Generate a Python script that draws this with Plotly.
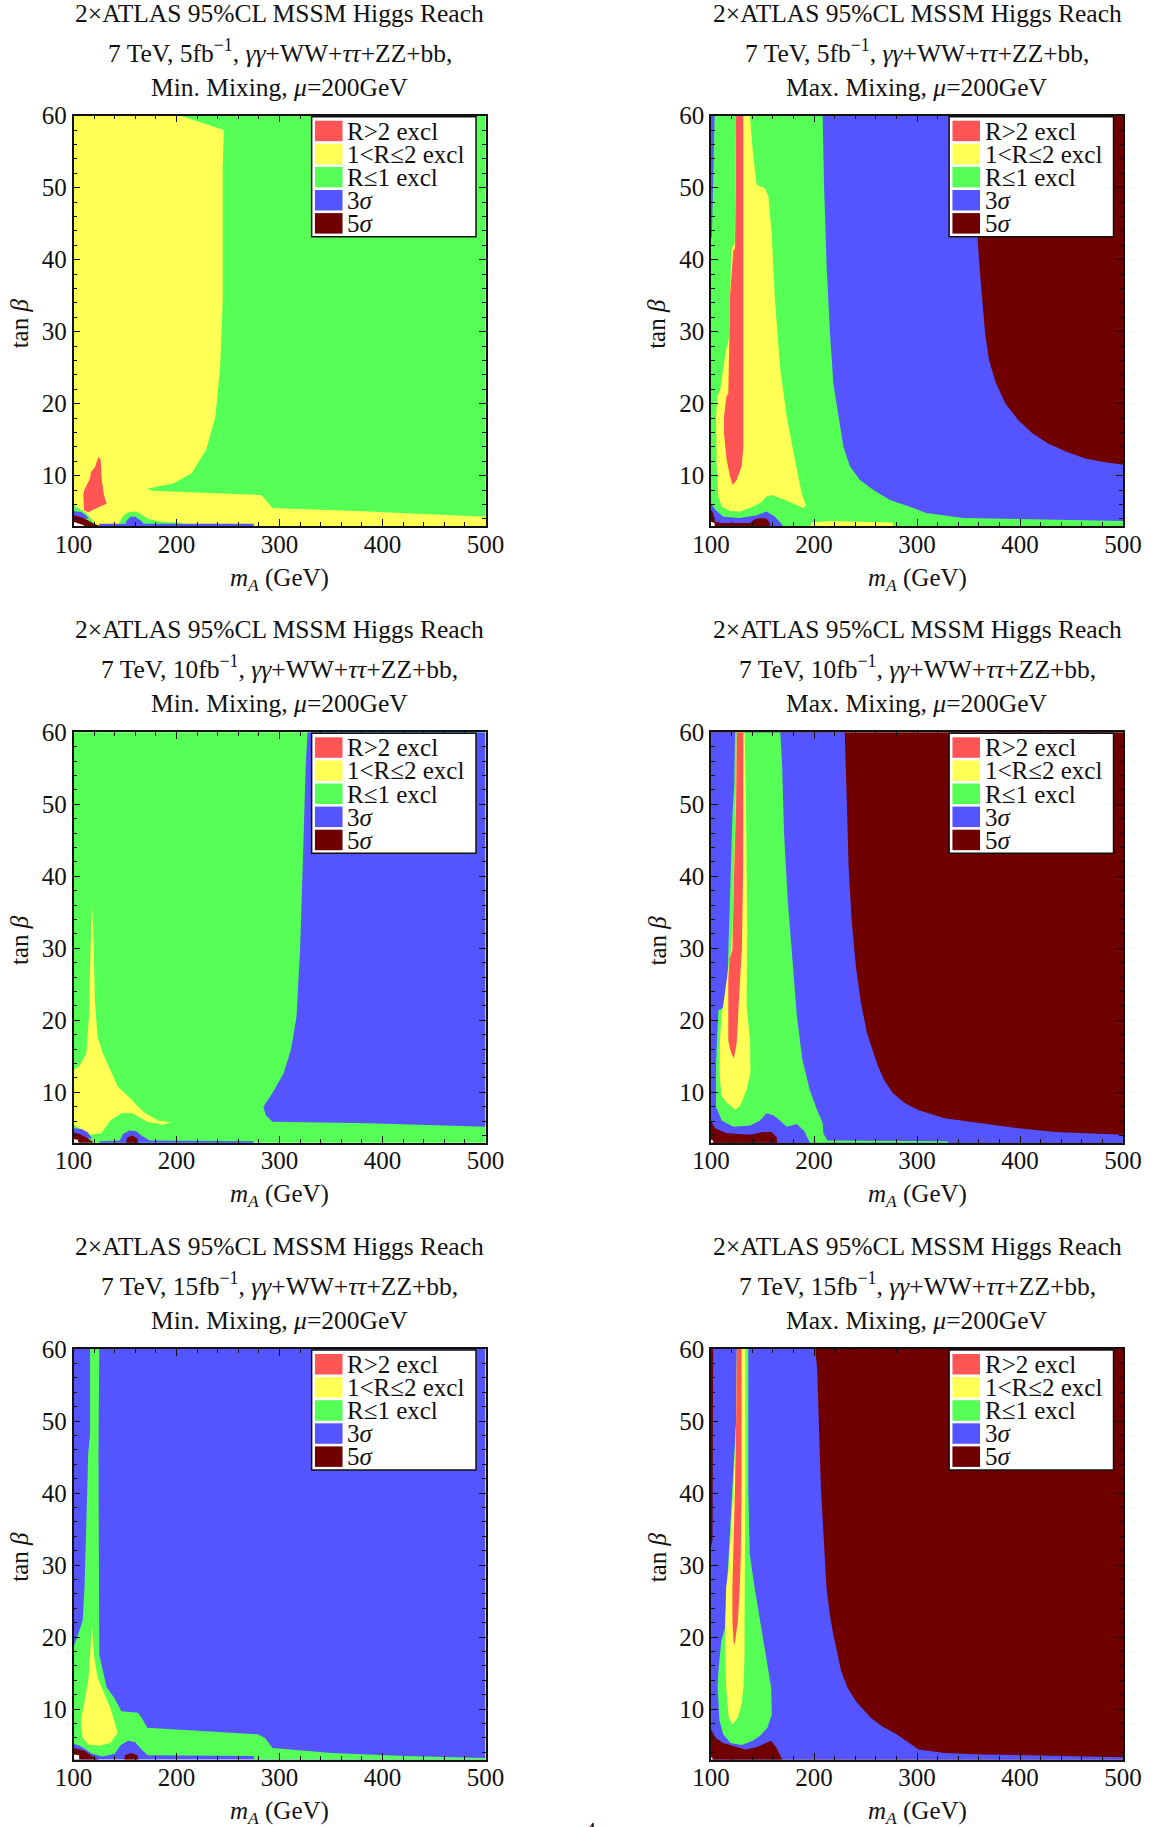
import plotly.graph_objects as go

# ---------------- data ----------------
X_RANGE = [100, 500]
Y_RANGE = [3, 60]
X_TICKS = [100, 200, 300, 400, 500]
Y_TICKS = [10, 20, 30, 40, 50, 60]

LUMIS = ["5", "5", "10", "10", "15", "15"]
MIXINGS = ["Min.", "Max.", "Min.", "Max.", "Min.", "Max."]

LEGEND_LABELS = ["R&gt;2 excl", "1&lt;R≤2 excl", "R≤1 excl", "3<i>σ</i>", "5<i>σ</i>"]
LEGEND_KEYS = ["red", "yellow", "green", "blue", "darkred"]
COLORS = {"red": "#FF5555", "yellow": "#FFFF55", "green": "#55FF55",
          "blue": "#5555FF", "darkred": "#700000", "white": "#FFFFFF"}

# region boundaries (m_A [GeV], tan beta)
# Panel 1: 5 fb-1, min mixing
P1_YELLOW = [(100, 60), (203.8, 60), (246.0, 58.0), (244.9, 52.9), (244.9, 34.4), (242.4, 25.1), (237.8, 18.2),
             (228.8, 13.6), (214.5, 10.3), (196.6, 8.9), (171.6, 8.2), (176, 7.9), (282.5, 7.3), (293.2, 5.5),
             (386.2, 5.0), (500, 4.3), (500, 2), (100, 2)]
P1_RED = [(109.5, 7.3), (110.5, 8.0), (116.0, 9.6), (117.0, 10.5), (120.9, 11.2), (124.1, 12.6), (126.4, 12.2),
          (127.4, 9.4), (129.6, 7.3), (132.2, 6.1), (122.5, 5.5), (114.4, 4.9), (110.2, 5.2)]
P1_CORNER_GREEN = [(100, 5.9), (106, 5.4), (112, 4.8), (117, 4.0), (120, 3.5), (100, 3.5)]
P1_CORNER_BLUE = [(100, 5.1), (108, 4.9), (112, 4.5), (115, 4.0), (100, 4.0)]
P1_CORNER_DARKRED = [(100, 4.5), (106, 4.3), (114, 3.8), (120, 3.3), (126, 3.0), (126, 2), (100, 2)]
P1_CORNER_WHITE = [(100, 3.6), (104, 3.4), (110, 3.1), (111, 2), (100, 2)]
P1_BUMP_GREEN = [(143, 2), (145, 3.6), (148, 4.4), (153, 4.9), (160, 5.0), (166, 4.6), (172, 4.0), (185, 3.6),
                 (205, 3.4), (206, 2)]
P1_BASE_BLUE = [(125, 2), (125, 3.3), (275, 3.3), (275, 2)]
P1_BUMP_BLUE = [(149, 2), (151, 3.6), (155, 4.3), (160, 4.3), (165, 3.8), (169, 3.2), (171, 2)]

# Panel 2: 5 fb-1, max mixing
P2_BLUE = [(208.4, 60), (500, 60), (500, 3.7), (344.6, 4.1), (308.8, 4.8), (296.4, 5.5), (273.8, 6.6),
           (257.6, 8.0), (244.6, 9.4), (234.9, 11.3), (228.5, 14.0), (223.6, 18.2), (218.8, 22.8), (215.5, 29.8),
           (212.3, 39.0), (209.7, 50.6)]
P2_DARKRED = [(358.0, 60), (500, 60), (500, 11.5), (481, 11.9), (462.8, 12.4), (445, 13.3), (426.9, 14.5),
              (412, 15.9), (398.3, 17.7), (386, 20.0), (376.8, 22.8), (370, 26.0), (366.1, 29.8), (363, 34.5),
              (360.7, 39.0), (358.9, 42.7)]
P2_BLUE_LEFT = [(100, 60), (103.5, 60), (102, 50), (100.8, 43), (100, 43)]
P2_YELLOW = [(124.3, 60), (137.9, 60), (140.5, 55.2), (144.3, 50.4), (152.4, 49.9), (155.7, 48.8), (158.9, 43.7),
             (162.1, 34.4), (167.0, 25.1), (173.5, 18.2), (181.5, 12.2), (188.0, 7.6), (192.2, 5.9), (189.6, 5.5),
             (171.8, 6.6), (158.9, 7.3), (154.0, 7.1), (147.6, 6.2), (137.9, 5.5), (128.2, 5.0), (118.4, 5.1),
             (110.4, 5.7), (107.1, 7.1), (105.5, 11.3), (104.9, 18.2), (106.0, 21.0), (109.0, 22.0), (114.6, 27.5),
             (117.3, 29.0), (119.8, 41.5), (123.0, 42.3)]
P2_RED = [(124.3, 60), (131.4, 60), (131.4, 14.0), (129.8, 11.3), (124.9, 9.4), (121.0, 8.7), (118.4, 9.9),
          (115.2, 12.2), (112.6, 15.9), (112.6, 18.2), (115.0, 21.0), (116.8, 21.4), (117.8, 28.8), (118.5, 35.0),
          (121.7, 41.3), (123.3, 41.6), (124.0, 50.0)]
P2_BLUE_BOTTOM = [(100, 6.2), (103.9, 5.3), (112.0, 4.3), (128.2, 4.1), (144.3, 4.5), (154.0, 5.0), (162.1, 4.3),
                  (167.0, 3.6), (170.2, 3.0), (171, 2), (100, 2)]
P2_DARKRED_BOTTOM = [(100, 5.3), (102, 4.8), (104, 3.6), (110, 3.4), (138, 3.4), (142, 3.9), (148, 4.1),
                     (154, 4.0), (157, 3.5), (158, 2), (100, 2)]
P2_CORNER_WHITE = [(100, 3.6), (103.5, 3.4), (104, 2), (100, 2)]
P2_YELLOW_BOTTOM = [(196, 2), (197, 3.5), (215, 3.7), (276, 3.5), (279, 2)]

# Panel 3: 10 fb-1, min mixing
P3_BLUE = [(327.2, 60), (500, 60), (500, 5.2), (386.2, 5.7), (293.2, 5.9), (286.8, 6.8), (284.3, 8.0),
           (293.2, 9.9), (303.9, 12.6), (311.1, 15.9), (316.5, 20.5), (320.0, 29.8), (322.5, 41.3), (325.4, 55.2)]
P3_YELLOW = [(100, 13.1), (105.4, 13.6), (112.5, 15.4), (115.0, 20.5), (116.5, 29.8), (117.9, 36.2), (119.3, 32.1),
             (120.8, 22.8), (123.3, 17.7), (128.6, 15.4), (135.8, 13.1), (142.9, 10.8), (157.2, 8.9), (162.6, 8.0),
             (169.8, 7.1), (182.3, 6.1), (194.8, 5.8), (185.9, 5.5), (171.6, 5.9), (157.2, 7.1), (146.5, 7.1),
             (135.8, 6.1), (126.8, 4.3), (116.1, 4.1), (105.4, 5.0), (100, 5.5)]
P3_CORNER_BLUE = [(100, 5.0), (108, 4.9), (114, 4.4), (118, 3.6), (100, 3.6)]
P3_CORNER_DARKRED = [(100, 4.4), (106, 4.2), (113, 3.7), (118, 3.2), (122, 2), (100, 2)]
P3_CORNER_WHITE = [(100, 3.5), (104, 3.4), (108, 2), (100, 2)]
P3_BUMP_BLUE = [(125, 2), (125, 3.2), (145, 3.3), (148, 4.2), (154, 4.7), (161, 4.6), (167, 3.9), (174, 3.3),
                (275, 3.2), (275, 2)]
P3_BUMP_DARKRED = [(150, 2), (152, 3.7), (157, 4.0), (162, 3.6), (164, 2)]

# Panel 4: 10 fb-1, max mixing
P4_BLUE = [(100, 60), (229.8, 60), (231.8, 50.6), (233.6, 41.3), (236.5, 34), (240.7, 27.4), (245.5, 22.5),
           (251.5, 18.2), (262.2, 13.6), (268.5, 11.6), (276.5, 9.9), (288, 8.5), (301.6, 7.5), (326.7, 6.4),
           (362.5, 5.7), (398.3, 5.0), (434.1, 4.5), (500, 4.1), (500, 2), (100, 2)]
P4_GREEN = [(123.3, 60), (167.3, 60), (169.1, 55.2), (170.9, 46.0), (174.5, 36.7), (179.9, 27.4), (183.4, 20.5),
            (188.8, 14.5), (196.0, 10.3), (203.1, 7.5), (208.5, 5.7), (209.0, 4.3), (213.0, 3.3), (330, 3.2),
            (330, 2), (196, 2), (196, 3.0), (190.6, 4.6), (183.4, 5.6), (173.5, 5.2), (167.0, 6.1), (160.5, 6.8),
            (154.0, 7.1), (147.6, 6.1), (137.9, 5.4), (121.7, 5.2), (110.4, 6.1), (104.9, 8.0), (104.9, 14.0),
            (107.1, 21.4), (111.8, 21.7), (115.4, 22.8), (118.3, 36.7), (120.8, 48.3), (122.6, 52.9)]
P4_YELLOW = [(125.1, 60), (132.6, 60), (134.0, 50.6), (135.1, 32.1), (134.6, 21.9), (137.9, 17.3), (138.3, 12.7),
             (134.6, 10.4), (128.2, 8.1), (123.3, 7.6), (115.2, 8.6), (110.4, 9.5), (108.1, 12.7), (108.7, 17.3),
             (110.4, 20.8), (112.0, 22.2), (116.1, 26.5), (119.0, 29.3), (120.8, 32.1), (122.6, 41.3), (124.0, 50.6)]
P4_RED = [(125.1, 60), (131.5, 60), (131.2, 41.3), (130.0, 30.0), (128.2, 25.6), (126.5, 21.0), (124.9, 16.8),
          (122.3, 14.7), (119.5, 15.5), (116.8, 17.2), (116.8, 25.6), (118.0, 28.5), (120.8, 29.8), (122.6, 41.3),
          (124.4, 50.6)]
P4_DARKRED_BOTTOM = [(100, 6.1), (103.9, 5.0), (115.2, 4.3), (137.9, 4.1), (150.8, 4.5), (158.9, 4.5),
                     (163.7, 3.8), (165.4, 2), (100, 2)]
P4_CORNER_WHITE = [(100, 3.4), (102, 3.3), (102.5, 2), (100, 2)]

# Panel 5: 15 fb-1, min mixing
P5_GREEN = [(116.1, 60), (125.0, 60), (124.3, 45.5), (124.3, 26.9), (125.0, 17.6), (128.6, 15.3), (132.2, 13.0),
            (139.4, 11.6), (146.5, 9.7), (162.6, 9.5), (166.2, 8.8), (171.6, 7.4), (278.9, 6.5), (286.1, 6.0),
            (293.2, 4.6), (350.5, 3.9), (422.0, 3.5), (500, 3.2), (500, 2), (276, 2), (275, 3.5), (172, 3.6),
            (166, 4.4), (160, 5.4), (153, 5.6), (146, 5.0), (140, 3.8), (128, 3.4), (118, 3.8), (112, 4.4),
            (106, 4.9), (100, 5.2), (100, 18.6), (103.6, 20.0), (108.9, 22.3), (110.7, 26.9), (112.5, 36.2),
            (114.3, 45.5), (116.1, 48.3)]
P5_YELLOW = [(117.9, 21.6), (119.7, 17.6), (123.3, 14.4), (128.6, 12.5), (135.8, 10.2), (142.9, 6.7), (135.8, 5.3),
             (125.0, 4.9), (114.3, 5.1), (108.9, 6.0), (107.2, 8.4), (110.7, 11.1), (114.3, 13.9), (116.1, 17.6)]
P5_CORNER_DARKRED = [(100, 4.6), (110.7, 4.2), (117.9, 3.5), (125, 2.9), (126, 2), (100, 2)]
P5_BUMP_DARKRED = [(148, 2), (150, 3.6), (156, 3.9), (162, 3.6), (165, 2)]
P5_CORNER_WHITE = [(100, 3.7), (105.4, 3.6), (106, 2), (100, 2)]

# Panel 6: 15 fb-1, max mixing
P6_BLUE = [(102.1, 60), (201.3, 60), (203.1, 57.1), (206.7, 40.8), (212.1, 26.9), (215.5, 23), (219.2, 20.0),
           (226.4, 15.3), (232.5, 13.0), (240.7, 11.1), (255.1, 8.8), (266, 7.6), (280.1, 6.5), (301.6, 4.4),
           (326.7, 3.9), (362.5, 3.7), (441.3, 3.5), (500, 3.3), (500, 2), (100, 2), (100, 32.5), (101.5, 33.5)]
P6_DARKRED_BOTTOM = [(100, 7.2), (104.7, 6.0), (111.8, 5.3), (122.6, 4.9), (133.3, 4.4), (144.0, 4.7),
                     (154.8, 5.3), (158.4, 5.6), (163.7, 4.6), (172.7, 2), (100, 2)]
P6_GREEN = [(125.1, 60), (136.2, 60), (136.2, 40.8), (137.6, 31.6), (142.3, 26.9), (147.6, 22.3), (153.0, 17.6),
            (158.4, 13.0), (159.1, 9.3), (154.8, 7.4), (147.6, 6.3), (140.5, 5.6), (129.7, 5.0), (119.0, 5.3),
            (111.8, 6.5), (108.2, 8.4), (106.4, 13.0), (107.2, 15.3), (110.0, 19.5), (113.6, 21.3), (115.4, 26.9),
            (118.3, 33.9), (120.8, 40.8), (124.4, 50.0)]
P6_YELLOW = [(125.1, 60), (133.3, 60), (133.3, 40.8), (132.6, 31.6), (132.6, 22.3), (132.6, 17.6), (131.5, 13.0),
             (129.7, 10.7), (126.1, 8.8), (120.8, 7.9), (117.2, 8.8), (114.7, 13.0), (113.6, 17.6), (113.6, 20.0),
             (114.7, 26.9), (117.2, 29.7), (119.0, 33.9), (121.8, 40.8), (124.4, 50.0)]
P6_RED = [(125.1, 60), (129.7, 60), (129.7, 40.8), (129.0, 31.6), (127.9, 26.9), (126.1, 22.3), (124.4, 20.4),
          (122.6, 18.8), (121.8, 19.5), (120.8, 22.3), (120.8, 26.9), (121.8, 31.6), (123.3, 40.8), (124.4, 50.0)]
P6_CORNER_WHITE = [(100, 3.3), (101.5, 3.2), (102, 2), (100, 2)]

PANEL_BG = ["green", "green", "green", "darkred", "blue", "darkred"]
PANEL_LAYERS = [
    [("yellow", P1_YELLOW), ("red", P1_RED), ("green", P1_CORNER_GREEN), ("blue", P1_CORNER_BLUE),
     ("darkred", P1_CORNER_DARKRED), ("white", P1_CORNER_WHITE), ("green", P1_BUMP_GREEN),
     ("blue", P1_BASE_BLUE), ("blue", P1_BUMP_BLUE)],
    [("blue", P2_BLUE), ("darkred", P2_DARKRED), ("blue", P2_BLUE_LEFT), ("yellow", P2_YELLOW), ("red", P2_RED),
     ("blue", P2_BLUE_BOTTOM), ("darkred", P2_DARKRED_BOTTOM), ("white", P2_CORNER_WHITE),
     ("yellow", P2_YELLOW_BOTTOM)],
    [("blue", P3_BLUE), ("yellow", P3_YELLOW), ("blue", P3_CORNER_BLUE), ("darkred", P3_CORNER_DARKRED),
     ("white", P3_CORNER_WHITE), ("blue", P3_BUMP_BLUE), ("darkred", P3_BUMP_DARKRED)],
    [("blue", P4_BLUE), ("green", P4_GREEN), ("yellow", P4_YELLOW), ("red", P4_RED),
     ("darkred", P4_DARKRED_BOTTOM), ("white", P4_CORNER_WHITE)],
    [("green", P5_GREEN), ("yellow", P5_YELLOW), ("darkred", P5_CORNER_DARKRED), ("darkred", P5_BUMP_DARKRED),
     ("white", P5_CORNER_WHITE)],
    [("blue", P6_BLUE), ("darkred", P6_DARKRED_BOTTOM), ("green", P6_GREEN), ("yellow", P6_YELLOW),
     ("red", P6_RED), ("white", P6_CORNER_WHITE)],
]

# ---------------- layout geometry (pixels) ----------------
W, H = 1152, 1827
COLS = [(73.5, 485.5), (711.0, 1123.0)]
ROWS = [(115.7, 526.0), (732.3, 1142.7), (1349.0, 1759.5)]
FONT = "Liberation Serif"
FS = 25

fig = go.Figure()
annotations = []
shapes = []

for i in range(6):
    r, c = divmod(i, 2)
    n = i + 1
    sfx = "" if n == 1 else str(n)
    xname, yname = "x" + sfx, "y" + sfx
    x0, x1 = COLS[c]
    yt, yb = ROWS[r]
    pw, ph = x1 - x0, yb - yt

    bx = [X_RANGE[0], X_RANGE[1], X_RANGE[1], X_RANGE[0]]
    by = [Y_RANGE[0] - 1, Y_RANGE[0] - 1, Y_RANGE[1] + 1, Y_RANGE[1] + 1]
    layers = [(PANEL_BG[i], list(zip(bx, by)))] + PANEL_LAYERS[i]
    for key, poly in layers:
        fig.add_trace(go.Scatter(
            x=[p[0] for p in poly], y=[p[1] for p in poly], mode="lines", fill="toself",
            fillcolor=COLORS[key], line=dict(width=0, color=COLORS[key]),
            hoverinfo="skip", showlegend=False, xaxis=xname, yaxis=yname))

    common = dict(showgrid=False, zeroline=False, showline=True, linecolor="#111", linewidth=1.5,
                  mirror="allticks", ticks="inside", ticklen=7, tickwidth=1.2, tickcolor="#111",
                  automargin=False,
                  tickfont=dict(family=FONT, size=FS, color="#111"), fixedrange=True)
    fig.update_layout(**{
        "xaxis" + sfx: dict(common, domain=[x0 / W, x1 / W], range=X_RANGE, anchor=yname,
                            tickvals=X_TICKS, ticklabelstandoff=-5,
                            minor=dict(dtick=20, tick0=100, ticks="inside", ticklen=4, tickcolor="#111",
                                       tickwidth=1, showgrid=False)),
        "yaxis" + sfx: dict(common, domain=[1 - yb / H, 1 - yt / H], range=Y_RANGE, anchor=xname,
                            tickvals=Y_TICKS,
                            minor=dict(dtick=2, tick0=0, ticks="inside", ticklen=4, tickcolor="#111",
                                       tickwidth=1, showgrid=False)),
    })

    xr, yr = xname + " domain", yname + " domain"
    titles = ["2×ATLAS 95%CL MSSM Higgs Reach",
              "7 TeV, " + LUMIS[i] + "fb<sup>−1</sup>, <i>γγ</i>+WW+<i>ττ</i>+ZZ+bb,",
              MIXINGS[i] + " Mixing, <i>μ</i>=200GeV"]
    for txt, off in zip(titles, [102.5, 64.5, 28.5]):
        annotations.append(dict(text=txt, x=0.5, y=1 + off / ph, xref=xr, yref=yr, showarrow=False,
                                xanchor="center", yanchor="middle",
                                font=dict(family=FONT, size=25.5, color="#111")))
    annotations.append(dict(text="<i>m<sub>A</sub></i> (GeV)", x=0.5, y=-53 / ph, xref=xr, yref=yr,
                            showarrow=False, xanchor="center", yanchor="middle",
                            font=dict(family=FONT, size=FS, color="#111")))
    annotations.append(dict(text="tan <i>β</i>", x=-54 / pw, y=0.5 - 3 / ph, xref=xr, yref=yr,
                            showarrow=False, textangle=-90, xanchor="center", yanchor="middle",
                            font=dict(family=FONT, size=FS, color="#111")))
    shapes.append(dict(type="rect", xref=xr, yref=yr, x0=0.578, x1=0.977,
                       y0=1 - 121 / ph, y1=1 - 1 / ph, fillcolor="white",
                       line=dict(color="#111", width=1.5), layer="above"))
    for k, (key, lab) in enumerate(zip(LEGEND_KEYS, LEGEND_LABELS)):
        top = 5 + 23.1 * k
        shapes.append(dict(type="rect", xref=xr, yref=yr, x0=0.586, x1=0.653,
                           y0=1 - (top + 20.5) / ph, y1=1 - top / ph, fillcolor=COLORS[key],
                           line=dict(width=0), layer="above"))
        annotations.append(dict(text=lab, x=0.659, y=1 - (top + 10.5) / ph, xref=xr, yref=yr,
                                showarrow=False, xanchor="left", yanchor="middle",
                                font=dict(family=FONT, size=25, color="#111")))

annotations.append(dict(text="4", x=590 / W, y=1 - 1815 / H, xref="paper", yref="paper", showarrow=False,
                        xanchor="center", yanchor="top", font=dict(family=FONT, size=22, color="#111")))

fig.update_layout(width=W, height=H, margin=dict(l=0, r=0, t=0, b=0, pad=0, autoexpand=False),
                  paper_bgcolor="white", plot_bgcolor="white", showlegend=False,
                  annotations=annotations, shapes=shapes,
                  font=dict(family=FONT, size=FS, color="#111"))

fig.write_html("out.html", config={"displayModeBar": False},
               post_script="document.body.style.margin='0px';document.body.style.overflow='hidden';")
